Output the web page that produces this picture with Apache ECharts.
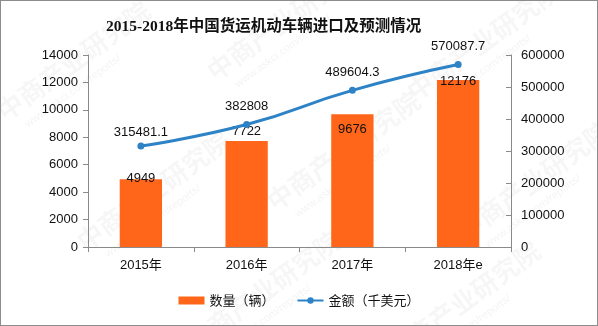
<!DOCTYPE html>
<html>
<head>
<meta charset="utf-8">
<script src="https://cdn.jsdelivr.net/npm/echarts@6/dist/echarts.min.js"></script>
<style>
  html, body { margin: 0; padding: 0; background: #fff; }
  #chart { width: 598px; height: 326px; box-sizing: border-box; border: 1px solid #8c8c8c; }
</style>
</head>
<body>
<div id="chart"></div>
<script>
// Import volume and value of freight motor vehicles, 2015–2018 (2018 forecast)
const years = ['2015年', '2016年', '2017年', '2018年e'];
const quantity = [4949, 7722, 9676, 12176];                      // 数量（辆）
const amount = [315481.1, 382808, 489604.3, 570087.7];           // 金额（千美元）
const leftTicks = { min: 0, max: 14000, interval: 2000 };
const rightTicks = { min: 0, max: 600000, interval: 100000 };

const chart = echarts.init(document.getElementById('chart'), null, { renderer: 'canvas' });

const baseFont = "'Liberation Sans', 'Noto Sans CJK SC', sans-serif";
const axisGray = '#8a8a8a';
const plain = v => String(v);

// label placement tweaks for individual bars / points
const barLabelOffsets = [[0, 6], [0, -3], [0, 22], [0, 8]];
const lineLabelDist = [4, 8, 8, 8];

// faint diagonal watermark
const wm = [];
const wmSpots = [[60, 70], [270, 30], [470, 50], [140, 200], [330, 160], [520, 190], [250, 300], [450, 310]];
wmSpots.forEach(([x, y]) => {
  wm.push({
    type: 'group', x: x, y: y, rotation: Math.PI / 5, silent: true, z: -10,
    children: [
      { type: 'text', style: { text: '中商产业研究院', x: -75, y: -14, fontSize: 26, fontWeight: 'bold',
        fontFamily: "'Noto Sans CJK SC', sans-serif", fill: 'rgba(0,0,0,0.035)' } },
      { type: 'text', style: { text: 'www.askci.com/reports/', x: -60, y: 18, fontSize: 11,
        fontFamily: baseFont, fill: 'rgba(0,0,0,0.05)' } }
    ]
  });
});

chart.setOption({
  animation: false,
  backgroundColor: '#fff',
  title: {
    text: '2015-2018年中国货运机动车辆进口及预测情况',
    left: 100, top: 13,
    textStyle: { fontSize: 15.5, fontWeight: 'bold', color: '#111',
      fontFamily: "'Liberation Serif', 'Noto Sans CJK SC', serif" }
  },
  graphic: wm,
  legend: {
    bottom: 13, left: 'center', itemGap: 22, itemWidth: 26, itemHeight: 8,
    textStyle: { fontSize: 13, color: '#111', fontFamily: "'Noto Sans CJK SC', sans-serif" },
    data: [
      { name: '数量（辆）', icon: 'rect' },
      { name: '金额（千美元）' }
    ]
  },
  grid: { left: 87, right: 86, top: 54, bottom: 78, containLabel: false },
  xAxis: {
    type: 'category', data: years,
    axisLine: { lineStyle: { color: axisGray } },
    axisTick: { show: true, length: 5, lineStyle: { color: axisGray }, alignWithLabel: false },
    axisLabel: { color: '#111', fontSize: 13, margin: 12, fontFamily: baseFont }
  },
  yAxis: [
    {
      type: 'value', min: leftTicks.min, max: leftTicks.max, interval: leftTicks.interval,
      axisLine: { show: true, lineStyle: { color: axisGray } },
      axisTick: { show: true, length: 5, lineStyle: { color: axisGray } },
      splitLine: { show: false },
      axisLabel: { color: '#111', fontSize: 13, margin: 10, fontFamily: baseFont, formatter: plain }
    },
    {
      type: 'value', min: rightTicks.min, max: rightTicks.max, interval: rightTicks.interval,
      position: 'right',
      axisLine: { show: true, lineStyle: { color: axisGray } },
      axisTick: { show: true, length: 5, inside: true, lineStyle: { color: axisGray } },
      splitLine: { show: false },
      axisLabel: { color: '#111', fontSize: 13, margin: 10, fontFamily: baseFont, formatter: plain }
    }
  ],
  series: [
    {
      name: '数量（辆）', type: 'bar', yAxisIndex: 0, barWidth: '40%',
      itemStyle: { color: '#FF661A' },
      data: quantity.map((v, i) => ({
        value: v,
        label: { show: true, position: 'top', distance: 0, offset: barLabelOffsets[i],
          color: '#111', fontSize: 13, fontFamily: baseFont }
      }))
    },
    {
      name: '金额（千美元）', type: 'line', yAxisIndex: 1, smooth: true,
      symbol: 'circle', symbolSize: 7,
      lineStyle: { color: '#2D83C6', width: 3 },
      itemStyle: { color: '#2D83C6' },
      data: amount.map((v, i) => ({
        value: v,
        label: { show: true, position: 'top', distance: lineLabelDist[i],
          color: '#111', fontSize: 13, fontFamily: baseFont }
      }))
    }
  ]
});
</script>
</body>
</html>
